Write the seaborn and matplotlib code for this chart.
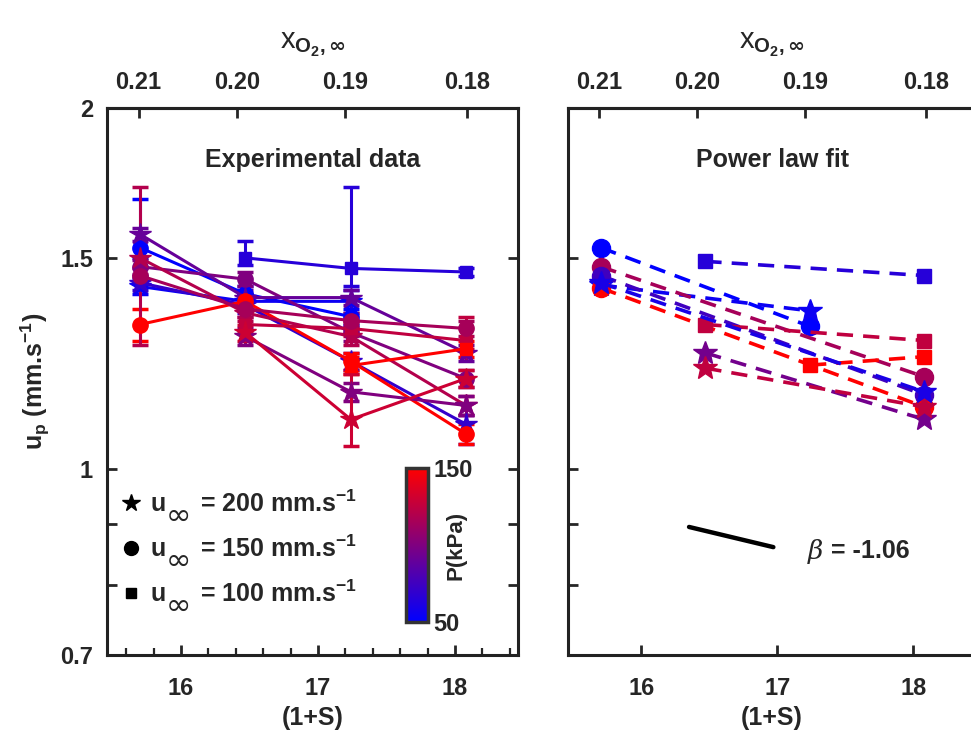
import numpy as np
import pandas as pd
import matplotlib
matplotlib.use('Agg')
import matplotlib.pyplot as plt
import seaborn as sns
from matplotlib import font_manager
from matplotlib.colors import LinearSegmentedColormap, Normalize
from matplotlib.cm import ScalarMappable
from matplotlib.lines import Line2D
from matplotlib.ticker import FixedLocator, FixedFormatter, MultipleLocator, NullLocator

nan = np.nan

# x positions (1+S) of the four mixtures, and the matching x_O2 values on top
one_plus_s = [15.70, 16.47, 17.24, 18.08]
xo2_tick_pos = [15.69, 16.41, 17.20, 18.09]
xo2_labels = ['0.21', '0.20', '0.19', '0.18']

# Experimental data: one row per (u_inf, P) condition
exp_marker = ['o', 's', '*', 'o', '*', '*', 'o', '*', 's', 's', '*', '*', 'o']
exp_pressure = [50, 65, 55, 100, 70, 90, 150, 120, 125, 150, 100, 130, 115]
exp_up = [
    [1.53, 1.40, 1.34, nan],
    [nan, 1.50, 1.47, 1.46],
    [1.42, 1.38, 1.38, nan],
    [1.475, 1.44, 1.30, 1.19],
    [1.43, 1.37, 1.23, 1.09],
    [1.57, 1.39, 1.39, 1.25],
    [1.32, 1.38, 1.23, 1.07],
    [1.50, 1.35, 1.29, 1.13],
    [nan, 1.32, 1.31, 1.28],
    [nan, nan, 1.22, 1.26],
    [nan, 1.29, 1.16, 1.13],
    [nan, 1.30, 1.10, 1.19],
    [1.45, 1.36, 1.33, 1.31],
]
exp_err_lo = [
    [0.03, 0.02, 0.02, nan],
    [nan, 0.02, 0.05, 0.01],
    [0.02, 0.02, 0.03, nan],
    [0.02, 0.02, 0.02, 0.02],
    [0.02, 0.02, 0.02, 0.04],
    [0.02, 0.02, 0.02, 0.02],
    [0.04, 0.02, 0.02, 0.02],
    [0.23, 0.02, 0.02, 0.02],
    [nan, 0.02, 0.02, 0.02],
    [nan, nan, 0.02, 0.02],
    [nan, 0.02, 0.02, 0.02],
    [nan, 0.02, 0.055, 0.02],
    [0.02, 0.02, 0.02, 0.02],
]
exp_err_hi = [
    [0.15, 0.02, 0.02, nan],
    [nan, 0.05, 0.25, 0.01],
    [0.02, 0.02, 0.03, nan],
    [0.02, 0.02, 0.02, 0.02],
    [0.02, 0.02, 0.02, 0.02],
    [0.02, 0.02, 0.02, 0.02],
    [0.04, 0.02, 0.02, 0.02],
    [0.22, 0.02, 0.02, 0.02],
    [nan, 0.02, 0.02, 0.06],
    [nan, nan, 0.02, 0.02],
    [nan, 0.02, 0.02, 0.02],
    [nan, 0.02, 0.10, 0.02],
    [0.02, 0.02, 0.02, 0.02],
]

# Power law fits: end points of each fitted line
fit_marker = ['o', 's', '*', 'o', 'o', 'o', 's', 's', '*', '*', '*']
fit_pressure = [50, 65, 55, 115, 75, 150, 125, 150, 95, 125, 60]
fit_x_start = [15.70, 16.47, 15.70, 15.70, 15.70, 15.70, 16.47, 17.24, 16.47, 16.47, 15.70]
fit_x_end = [17.24, 18.08, 17.24, 18.08, 18.08, 18.08, 18.08, 18.08, 18.08, 18.08, 18.08]
fit_y_start = [1.53, 1.49, 1.424, 1.475, 1.45, 1.416, 1.32, 1.221, 1.25, 1.214, 1.43]
fit_y_end = [1.315, 1.45, 1.355, 1.194, 1.153, 1.127, 1.28, 1.241, 1.10, 1.127, 1.16]

# slope guide
beta_x = [16.35, 16.97]
beta_y = [0.895, 0.861]
beta_text = '= -1.06'

# legend: "u" + big subscript infinity (added below) + rest of the label
legend_labels = [r'u     = 200 mm.s$^{-1}$',
                 r'u     = 150 mm.s$^{-1}$',
                 r'u     = 100 mm.s$^{-1}$']
legend_markers = ['*', 'o', 's']

y_ticks = [0.7, 0.8, 0.9, 1, 1.5, 2]
y_ticklabels = ['0.7', '', '', '1', '1.5', '2']

# ---- style ----
sns.set_theme(style='ticks')
names = {f.name for f in font_manager.fontManager.ttflist}
tick_font = 'Liberation Sans Narrow' if 'Liberation Sans Narrow' in names else 'Liberation Sans'
plt.rcParams['font.family'] = ['Liberation Sans', 'DejaVu Sans']
plt.rcParams['font.weight'] = 'bold'
plt.rcParams['mathtext.fontset'] = 'custom'
plt.rcParams['mathtext.rm'] = 'Liberation Sans:bold'
plt.rcParams['mathtext.it'] = 'Liberation Sans:bold'
plt.rcParams['mathtext.bf'] = 'Liberation Sans:bold'
plt.rcParams['mathtext.sf'] = 'DejaVu Sans'
plt.rcParams['axes.linewidth'] = 2.2
plt.rcParams['axes.edgecolor'] = '#222222'

cmap = LinearSegmentedColormap.from_list('bluered', [(0, 0, 1), (1, 0, 0)])
norm = Normalize(50, 150)
ms_left = {'o': 11, 's': 8, '*': 16}
ms_right = {'o': 13, 's': 10, '*': 18}

fig = plt.figure(figsize=(9.71, 7.40), dpi=100)
ax1 = fig.add_axes([107 / 971, 85 / 740, 411 / 971, 547 / 740])
ax2 = fig.add_axes([568 / 971, 85 / 740, 408 / 971, 547 / 740])

# left: experimental data
for mk, p, ys, lo, hi in zip(exp_marker, exp_pressure, exp_up, exp_err_lo, exp_err_hi):
    c = cmap(norm(p))
    ax1.errorbar(one_plus_s, ys, yerr=[lo, hi], fmt='none', ecolor=c,
                 elinewidth=2.2, capsize=6, capthick=2.5, zorder=2)
    df = pd.DataFrame({'S': one_plus_s, 'up': ys}).dropna()
    sns.lineplot(data=df, x='S', y='up', ax=ax1, color=c, lw=2.2, marker=mk,
                 markersize=ms_left[mk], markeredgecolor=c, markeredgewidth=1,
                 zorder=3)

# right: power law fits
for mk, p, x0, x1, y0, y1 in zip(fit_marker, fit_pressure, fit_x_start, fit_x_end,
                                  fit_y_start, fit_y_end):
    c = cmap(norm(p))
    df = pd.DataFrame({'S': [x0, x1], 'up': [y0, y1]})
    sns.lineplot(data=df, x='S', y='up', ax=ax2, color=c, lw=2.6,
                 linestyle=(0, (4.5, 2.8)), marker=mk, markersize=ms_right[mk],
                 markeredgecolor=c, markeredgewidth=1)

sns.lineplot(x=beta_x, y=beta_y, ax=ax2, color='black', lw=3.2)
ax2.text(0.588, 0.19, 'β', transform=ax2.transAxes, fontsize=19,
         family='DejaVu Serif', style='italic', fontweight='normal',
         va='center', ha='left')
ax2.text(0.645, 0.19, beta_text, transform=ax2.transAxes, fontsize=18,
         fontweight='bold', va='center', ha='left')

for ax, title in [(ax1, 'Experimental data'), (ax2, 'Power law fit')]:
    ax.set_yscale('log')
    ax.set_ylim(0.7, 2)
    ax.set_xlim(15.46, 18.46)
    ax.yaxis.set_major_locator(FixedLocator(y_ticks))
    ax.yaxis.set_major_formatter(FixedFormatter(y_ticklabels))
    ax.yaxis.set_minor_locator(NullLocator())
    ax.set_xticks([16, 17, 18])
    ax.set_xticklabels(['16', '17', '18'])
    ax.set_xlabel('(1+S)', fontsize=18, fontweight='bold', labelpad=4)
    ax.set_ylabel('')
    ax.tick_params(axis='both', which='both', direction='in', length=7, width=2,
                   labelsize=17)
    ax.tick_params(axis='x', pad=16)
    ax.tick_params(axis='y', pad=10)
    for lab in ax.get_xticklabels() + ax.get_yticklabels():
        lab.set_family(tick_font)
        lab.set_fontweight('bold')
    ax.text(0.5, 0.905, title, transform=ax.transAxes, ha='center', va='center',
            fontsize=18, fontweight='bold')
    top = ax.secondary_xaxis('top')
    top.set_xticks(xo2_tick_pos)
    top.set_xticklabels(xo2_labels)
    top.tick_params(direction='in', length=7, width=2, labelsize=17, pad=10)
    for lab in top.get_xticklabels():
        lab.set_family(tick_font)
        lab.set_fontweight('bold')
    top.set_xlabel(r'x$_{O_{2},\mathsf{\infty}}$', fontsize=21, labelpad=16)
    ax.grid(False)

ax1.tick_params(axis='y', right=True)
ax1.xaxis.set_minor_locator(MultipleLocator(0.2))
ax1.tick_params(axis='x', which='minor', bottom=True, direction='in', length=5, width=1.6)
ax2.tick_params(axis='y', labelleft=False)
ax1.set_ylabel(r'u$_{p}$ (mm.s$^{-1}$)', fontsize=18, fontweight='bold', labelpad=6)

handles = [Line2D([], [], ls='', marker=m, color='black', markersize=ms)
           for m, ms in zip(legend_markers, [13, 10, 7])]
leg = ax1.legend(handles, legend_labels, loc='lower left', bbox_to_anchor=(0.0, 0.06),
                 frameon=False, fontsize=18, handlelength=0.7, handletextpad=0.4,
                 labelspacing=0.75, borderaxespad=0.2)
# big lowered infinity subscript after each "u" (drawn after the legend)
for t in leg.get_texts():
    ax1.annotate('∞', xy=(0, 0), xycoords=t, xytext=(11.5, 11),
                 textcoords='offset points', fontsize=22, fontweight='normal',
                 family='DejaVu Sans', ha='left', va='top', zorder=10,
                 annotation_clip=False)

# colorbar for pressure
cax = fig.add_axes([406 / 971, 118 / 740, 22 / 971, 154 / 740])
cb = fig.colorbar(ScalarMappable(norm=norm, cmap=cmap), cax=cax, ticks=[50, 150])
cb.outline.set_linewidth(2.5)
cb.outline.set_edgecolor('#333333')
cax.tick_params(length=0, labelsize=17, pad=4)
for lab in cax.get_yticklabels():
    lab.set_family(tick_font)
    lab.set_fontweight('bold')
cb.set_label('P(kPa)', fontsize=16, fontweight='bold', labelpad=-20)

fig.canvas.draw()
fig.savefig('out.png', dpi=100)
